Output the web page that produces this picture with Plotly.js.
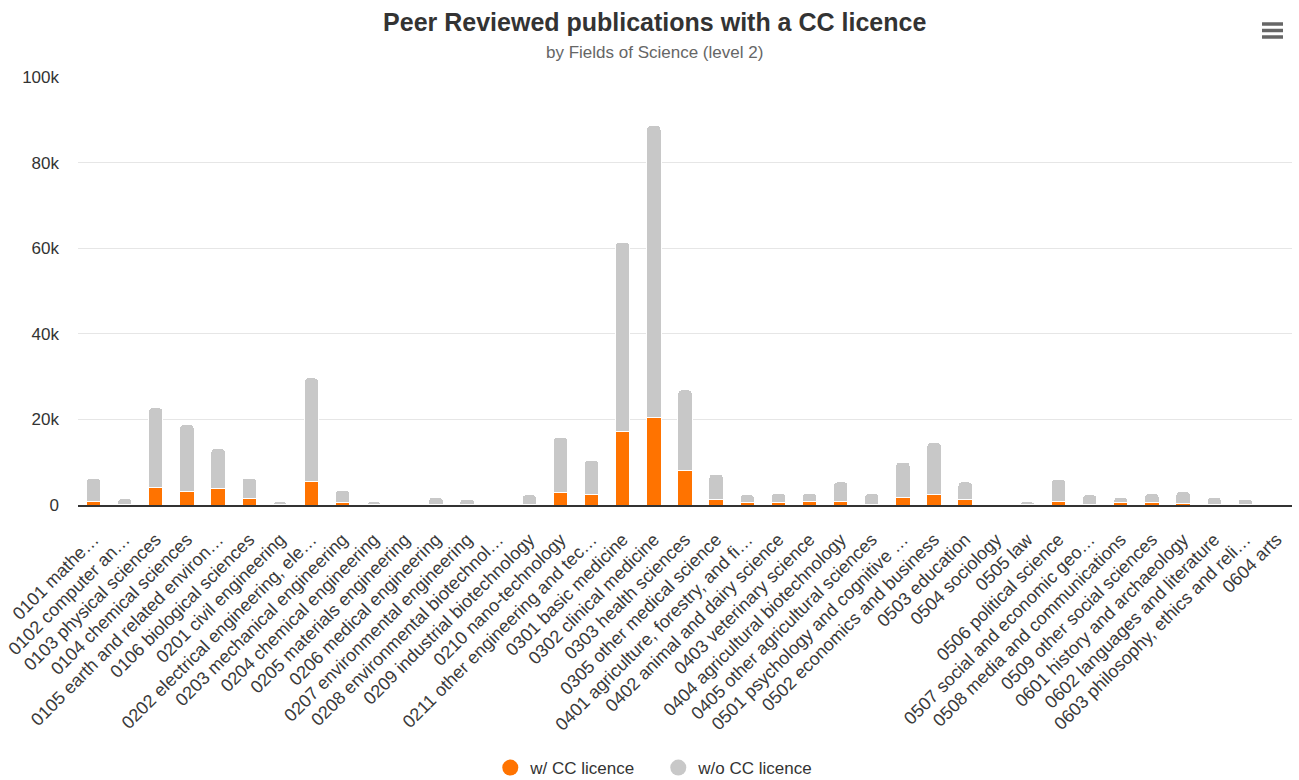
<!DOCTYPE html>
<html>
<head>
<meta charset="utf-8">
<script src="https://cdn.plot.ly/plotly-3.0.1.min.js"></script>
<style>
  html, body { margin: 0; padding: 0; background: #ffffff; }
  #chart { width: 1299px; height: 780px; }
</style>
</head>
<body>
<div id="chart"></div>
<script>
const categories = [
  "0101 mathe…",
  "0102 computer an…",
  "0103 physical sciences",
  "0104 chemical sciences",
  "0105 earth and related environ…",
  "0106 biological sciences",
  "0201 civil engineering",
  "0202 electrical engineering, ele…",
  "0203 mechanical engineering",
  "0204 chemical engineering",
  "0205 materials engineering",
  "0206 medical engineering",
  "0207 environmental engineering",
  "0208 environmental biotechnol…",
  "0209 industrial biotechnology",
  "0210 nano-technology",
  "0211 other engineering and tec…",
  "0301 basic medicine",
  "0302 clinical medicine",
  "0303 health sciences",
  "0305 other medical science",
  "0401 agriculture, forestry, and fi…",
  "0402 animal and dairy science",
  "0403 veterinary science",
  "0404 agricultural biotechnology",
  "0405 other agricultural sciences",
  "0501 psychology and cognitive …",
  "0502 economics and business",
  "0503 education",
  "0504 sociology",
  "0505 law",
  "0506 political science",
  "0507 social and economic geo…",
  "0508 media and communications",
  "0509 other social sciences",
  "0601 history and archaeology",
  "0602 languages and literature",
  "0603 philosophy, ethics and reli…",
  "0604 arts"
];

const withCC = [
  800, 100, 4100, 3100, 3800, 1500, 100, 5400, 500, 100,
  0, 200, 100, 0, 200, 3000, 2400, 17100, 20400, 8000,
  1400, 500, 500, 800, 800, 200, 1800, 2500, 1200, 0,
  100, 800, 200, 500, 500, 300, 200, 100, 0
];

const withoutCC = [
  5500, 1400, 18600, 15700, 9400, 4800, 700, 24300, 2900, 700,
  0, 1600, 1300, 0, 2200, 12800, 8100, 44300, 68200, 18900,
  5800, 1900, 2200, 1900, 4600, 2500, 8200, 12100, 4200, 0,
  700, 5200, 2200, 1300, 2200, 2800, 1600, 1300, 0
];

const yTickVals = [0, 20000, 40000, 60000, 80000, 100000];
const yTickText = ["0", "20k", "40k", "60k", "80k", "100k"];

const seriesNames = ["w/ CC licence", "w/o CC licence"];
const seriesColors = ["#ff7300", "#c8c8c8"];

const FONT = "'Liberation Sans', Arial, Helvetica, sans-serif";

const traces = [
  {
    type: "bar", x: categories, y: withCC, name: seriesNames[0],
    marker: { color: seriesColors[0], line: { color: "#ffffff", width: 1 } },
    showlegend: false, hoverinfo: "x+y+name"
  },
  {
    type: "bar", x: categories, y: withoutCC, name: seriesNames[1],
    marker: { color: seriesColors[1], line: { color: "#ffffff", width: 1 } },
    showlegend: false, hoverinfo: "x+y+name"
  },
  {
    type: "scatter", mode: "markers", x: [null], y: [null], name: seriesNames[0],
    marker: { color: seriesColors[0], size: 16, symbol: "circle" }, showlegend: true
  },
  {
    type: "scatter", mode: "markers", x: [null], y: [null], name: seriesNames[1],
    marker: { color: seriesColors[1], size: 16, symbol: "circle" }, showlegend: true
  }
];

const layout = {
  width: 1299, height: 780,
  paper_bgcolor: "#ffffff", plot_bgcolor: "#ffffff",
  font: { family: FONT, color: "#333333" },
  margin: { l: 78, r: 7, t: 77, b: 275, autoexpand: false },
  barmode: "stack",
  bargap: 0.54,
  barcornerradius: 4,
  title: {
    text: "<b>Peer Reviewed publications with a CC licence</b>",
    font: { family: FONT, size: 25, color: "#333333" },
    x: 0.504, xref: "container", xanchor: "center",
    y: 0.972, yref: "container", yanchor: "middle"
  },
  annotations: [{
    text: "by Fields of Science (level 2)",
    xref: "paper", yref: "paper",
    x: (655 - 78) / 1215, y: (505 - 52) / 428, xanchor: "center", yanchor: "middle",
    showarrow: false,
    font: { family: FONT, size: 17, color: "#666666" }
  }],
  xaxis: {
    type: "category",
    tickangle: -45,
    tickfont: { family: FONT, size: 18, color: "#3a3a3a" },
    showgrid: false,
    showline: true, linecolor: "#333333", linewidth: 2,
    ticks: "", automargin: false,
    ticklabelstandoff: 15,
    range: [-0.5, categories.length - 0.5],
    fixedrange: true
  },
  yaxis: {
    range: [0, 100000],
    tickvals: yTickVals,
    ticktext: yTickText,
    tickfont: { family: FONT, size: 17, color: "#333333" },
    showgrid: true, gridcolor: "#e6e6e6", gridwidth: 1,
    zeroline: false, showline: false, ticks: "",
    ticklabelstandoff: 18,
    automargin: false, fixedrange: true
  },
  legend: {
    orientation: "h",
    x: 0.478, xanchor: "center",
    y: (505 - 768) / 428, yanchor: "middle",
    font: { family: FONT, size: 17, color: "#333333" },
    itemsizing: "trace",
    entrywidth: 123,
    traceorder: "normal"
  },
  shapes: [
    { type: "line", xref: "paper", yref: "paper", x0: (1263 - 78) / 1215, x1: (1284 - 78) / 1215, y0: (505 - 24) / 428, y1: (505 - 24) / 428, line: { color: "#666666", width: 3.5 } },
    { type: "line", xref: "paper", yref: "paper", x0: (1263 - 78) / 1215, x1: (1284 - 78) / 1215, y0: (505 - 30.5) / 428, y1: (505 - 30.5) / 428, line: { color: "#666666", width: 3.5 } },
    { type: "line", xref: "paper", yref: "paper", x0: (1263 - 78) / 1215, x1: (1284 - 78) / 1215, y0: (505 - 37) / 428, y1: (505 - 37) / 428, line: { color: "#666666", width: 3.5 } }
  ],
  hovermode: "closest"
};

Plotly.newPlot("chart", traces, layout, { displayModeBar: false, responsive: false });
</script>
</body>
</html>
